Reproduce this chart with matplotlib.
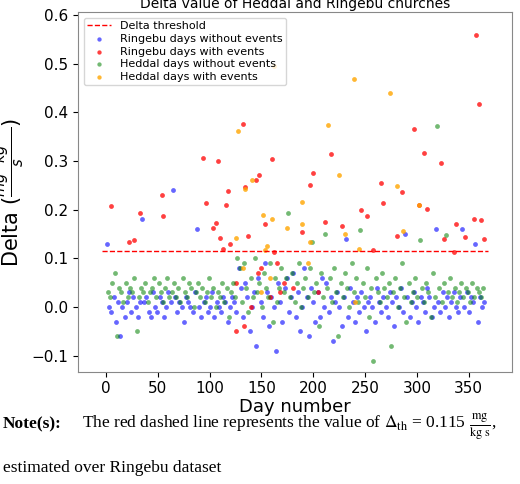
import numpy as np
import matplotlib.pyplot as plt

# Event days (above/below threshold)
r_days = [4.5,22,27,32.5,53.6,55,94,96.4,103.5,106,108,110,113,115.4,118,120,131.8,134,137,144.6,148,153.6,160,162,189,196.7,200,211,217,228,246,251.5,258,265,267,281,286,297.6,302,307,309.5,323.7,326,336,337.5,346.5,355,357,360,361.6,365,
          125,140,147,150,158,165,168,172,180,125,205,133]
r_vals = [0.207,0.133,0.137,0.193,0.231,0.187,0.306,0.213,0.162,0.172,0.301,0.142,0.120,0.21,0.238,0.130,0.376,0.246,0.145,0.26,0.272,0.171,0.304,0.114,0.155,0.25,0.275,0.174,0.314,0.166,0.199,0.187,0.118,0.254,0.214,0.145,0.237,0.366,0.209,0.316,0.202,0.296,0.140,0.114,0.170,0.144,0.180,0.558,0.418,0.179,0.140,
          0.05,0.0,0.07,0.08,0.02,0.09,0.03,0.05,0.04,-0.05,0.03,-0.04]
o_days = [127,125.6,140.8,134,151.7,153.6,155,160.4,162,174.8,189.6,189,196.7,213.8,225,231,239,244.6,274,281,287,302,150,132,240,195,158]
o_vals = [0.361,0.141,0.26,0.243,0.19,0.118,0.126,0.181,0.495,0.163,0.216,0.171,0.133,0.375,0.272,0.150,0.468,0.120,0.439,0.248,0.157,0.21,0.03,0.08,0.01,0.09,0.06]

# Days without events (values read in day order)
b_vals = [0.13,0.00,-0.01,0.02,-0.03,0.01,-0.06,0.00,-0.02,0.01,
          0.03,-0.01,0.02,0.00,-0.02,0.01,0.18,0.01,0.02,-0.01,
          -0.02,0.03,0.00,-0.01,0.02,0.01,-0.02,0.00,0.03,0.01,
          0.24,0.02,-0.01,0.01,0.00,-0.03,0.02,0.01,0.00,-0.01,
          0.03,0.16,0.00,-0.02,0.01,0.02,-0.01,0.00,0.03,-0.02,
          0.01,0.00,-0.01,0.02,0.01,-0.03,0.00,0.02,0.01,-0.01,
          0.08,0.04,-0.02,0.05,0.02,-0.05,0.00,0.03,-0.08,0.06,
          0.01,-0.02,0.09,0.03,-0.04,0.02,0.00,-0.09,0.05,0.01,
          -0.03,0.04,0.06,-0.01,0.02,0.07,-0.02,0.03,-0.05,0.00,
          0.08,0.02,-0.06,0.04,0.01,-0.03,0.03,-0.02,0.06,0.00,
          0.05,-0.01,0.02,-0.07,0.01,0.03,0.00,-0.04,0.02,0.14,
          -0.02,0.04,0.01,-0.03,0.02,-0.01,0.03,0.00,-0.05,0.01,
          0.02,0.00,-0.03,0.04,0.01,-0.01,0.02,0.00,-0.02,0.03,
          0.01,-0.04,0.02,0.00,0.04,-0.01,0.15,0.02,-0.02,0.01,
          0.03,0.00,-0.03,0.02,0.01,-0.01,0.04,0.02,-0.02,0.00,
          0.16,0.01,-0.01,0.03,0.00,0.02,-0.02,0.01,0.03,0.00,
          -0.01,0.02,0.16,0.00,0.03,-0.01,0.02,0.01,0.13,-0.03,
          0.02,0.00,0.01]
g_vals = [0.03,0.02,0.05,0.07,-0.06,0.04,0.03,0.01,0.05,0.02,
          0.04,0.03,0.06,-0.05,0.02,0.04,0.03,0.05,0.01,0.03,
          0.04,0.06,0.02,0.05,0.03,0.01,0.04,0.06,0.02,0.03,
          0.05,0.02,0.04,0.01,0.06,0.03,0.02,0.05,0.04,0.00,
          0.03,0.05,0.02,0.04,0.01,0.03,0.06,0.02,0.04,0.00,
          0.03,0.02,0.05,0.01,0.04,-0.02,0.03,0.05,0.02,0.10,
          0.08,0.01,0.09,0.04,-0.01,0.06,0.02,0.10,0.03,0.05,
          0.00,0.07,0.04,0.02,0.09,-0.03,0.06,0.01,0.04,0.08,
          0.03,0.06,0.194,0.02,0.07,0.01,0.05,0.09,0.00,0.04,
          0.06,0.02,0.08,0.133,0.03,0.05,-0.04,0.07,0.02,0.149,
          0.04,0.06,0.01,0.08,0.03,-0.06,0.05,0.02,0.07,0.04,
          0.00,0.09,0.03,0.06,0.01,0.159,0.05,0.02,0.08,-0.02,
          0.04,-0.11,0.06,0.03,0.01,0.07,0.04,0.02,0.05,-0.08,
          0.03,0.06,0.00,0.04,0.09,0.02,-0.03,0.05,0.01,0.03,
          0.06,0.02,0.138,0.04,0.01,0.05,0.03,-0.02,0.07,0.02,
          0.372,0.04,0.01,0.05,0.148,0.03,0.06,0.02,0.04,0.01,
          0.03,0.05,0.02,0.04,0.03,0.01,0.05,0.02,0.04,0.03,
          0.02,0.04]
b_days = np.linspace(1, 365, len(b_vals))
g_days = np.linspace(2, 364, len(g_vals))
threshold = 0.115
xticks = [0, 50, 100, 150, 200, 250, 300, 350]

fig = plt.figure(figsize=(5.2, 4.84), dpi=100)
ax = fig.add_axes([0.15, 0.232, 0.835, 0.743])
ax.axhline(threshold, color='red', ls='--', lw=1, xmin=0.055, xmax=0.945, label='Delta threshold')
ax.scatter(b_days, b_vals, s=12, color='blue', alpha=0.6, lw=0, label='Ringebu days without events')
ax.scatter(r_days, r_vals, s=12, color='red', alpha=0.75, lw=0, label='Ringebu days with events')
ax.scatter(g_days, g_vals, s=12, color='green', alpha=0.55, lw=0, label='Heddal days without events')
ax.scatter(o_days, o_vals, s=12, color='orange', alpha=0.8, lw=0, label='Heddal days with events')
ax.set_xlim(-27, 392)
ax.set_ylim(-0.133, 0.606)
ax.set_xticks(xticks)
ax.tick_params(labelsize=11)
ax.set_title('Delta value of Heddal and Ringebu churches', fontsize=10, pad=3)
ax.set_xlabel('Day number', fontsize=13, labelpad=1)
ax.set_ylabel(r'Delta $(\frac{mg \cdot kg^{-1}}{s})$', fontsize=15)
ax.legend(loc='upper left', fontsize=8, markerscale=0.9, handlelength=2.2,
          borderpad=0.3, labelspacing=0.25, framealpha=0.8)
for s in ax.spines.values():
    s.set_color('#888888')

fig.text(0.005, 0.115, 'Note(s):', family='Liberation Serif', weight='bold', fontsize=12.5)
fig.text(0.158, 0.115, r'The red dashed line represents the value of $\Delta_{\rm th}$ = 0.115 $\frac{\rm mg}{\rm kg\ s}$,',
         family='Liberation Serif', fontsize=12.5, math_fontfamily='stix', va='baseline')
fig.text(0.005, 0.025, 'estimated over Ringebu dataset', family='Liberation Serif', fontsize=12.5)
fig.savefig('out.png', dpi=100)
